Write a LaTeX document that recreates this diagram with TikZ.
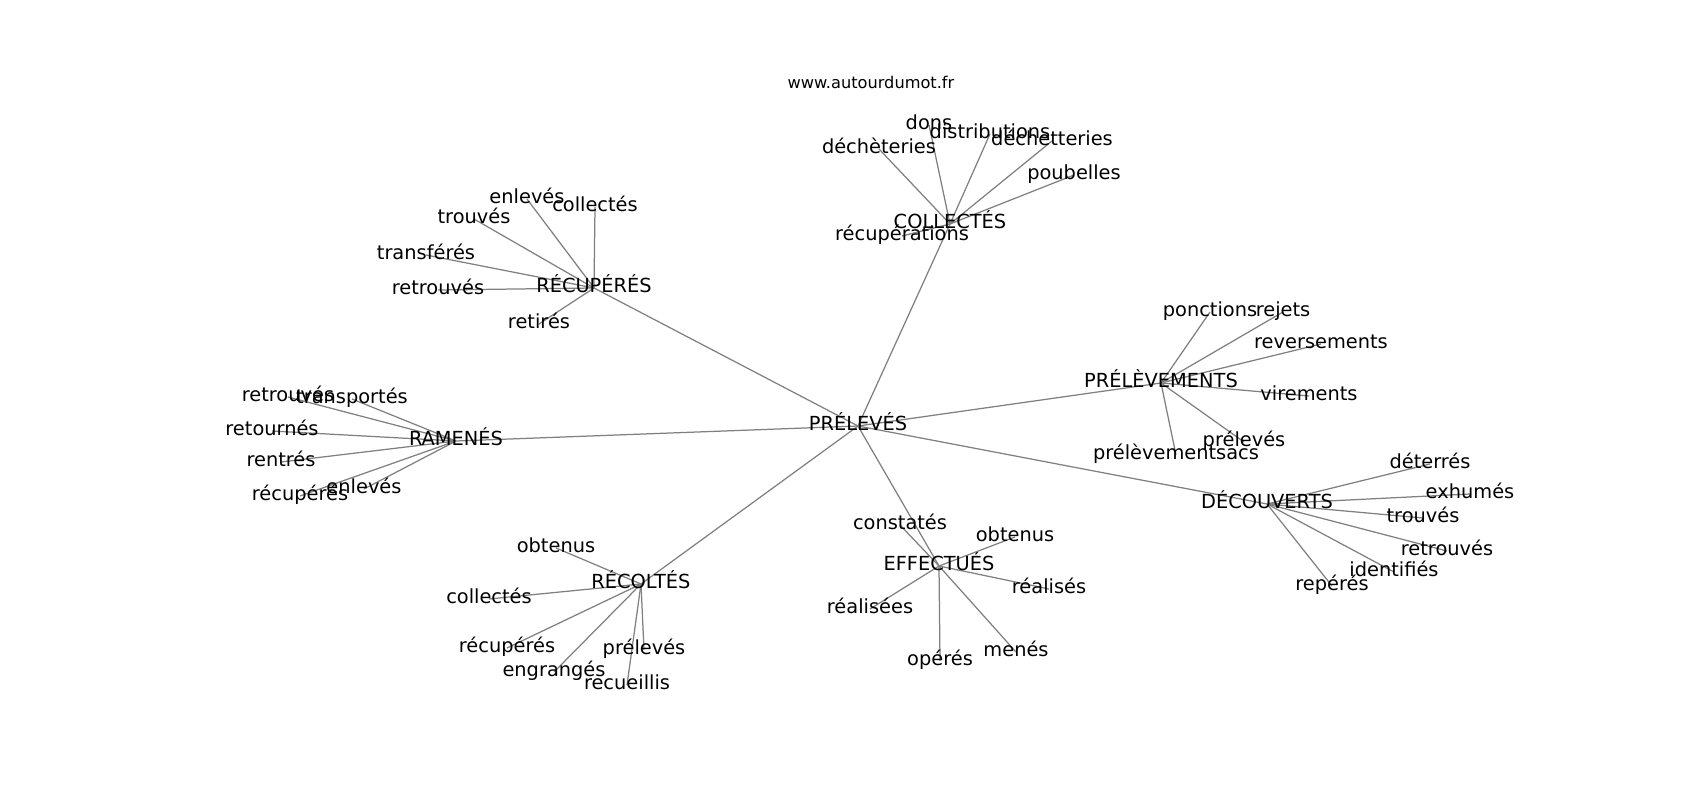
\documentclass[tikz,border=0pt]{standalone}
\usepackage{fontspec}
\setmainfont{DejaVu Sans}
\usetikzlibrary{backgrounds}
\begin{document}
\begin{tikzpicture}[x=0.01in,y=-0.01in,
  lbl/.style={font=\fontsize{14}{16}\selectfont, inner sep=0pt, text height=0.86em, text depth=0.14em, text=black},
  ttl/.style={font=\fontsize{11.7}{14}\selectfont, inner sep=0pt, text=black},
  edge/.style={draw=black!50, line width=0.9pt}]
\useasboundingbox (0,0) rectangle (1700,800);
\node[ttl] (title) at (871,82) {www.autourdumot.fr};
\begin{scope}[shift={(0,2)}]
% hubs
\node[lbl] (P) at (858,424) {PRÉLEVÉS};
\node[lbl] (COL) at (950,222) {COLLECTÉS};
\node[lbl] (REC) at (594,286) {RÉCUPÉRÉS};
\node[lbl] (RAM) at (456,439) {RAMENÉS};
\node[lbl] (PRL) at (1161,381) {PRÉLÈVEMENTS};
\node[lbl] (DEC) at (1267,502) {DÉCOUVERTS};
\node[lbl] (RCL) at (641,582) {RÉCOLTÉS};
\node[lbl] (EFF) at (939,564) {EFFECTUÉS};
% COLLECTÉS
\node[lbl] (c1) at (929,123) {dons};
\node[lbl] (c2) at (990,132) {distributions};
\node[lbl] (c3) at (879,147) {déchèteries};
\node[lbl] (c4) at (1052,139) {déchetteries};
\node[lbl] (c5) at (1074,173) {poubelles};
\node[lbl] (c6) at (902,234) {récupérations};
% RÉCUPÉRÉS
\node[lbl] (r1) at (527,197) {enlevés};
\node[lbl] (r2) at (595,205) {collectés};
\node[lbl] (r3) at (474,217) {trouvés};
\node[lbl] (r4) at (426,253) {transférés};
\node[lbl] (r5) at (438,288) {retrouvés};
\node[lbl] (r6) at (539,322) {retirés};
% RAMENÉS
\node[lbl] (m1) at (288,395) {retrouvés};
\node[lbl] (m2) at (352,397) {transportés};
\node[lbl] (m3) at (272,429) {retournés};
\node[lbl] (m4) at (281,460) {rentrés};
\node[lbl] (m5) at (300,494) {récupérés};
\node[lbl] (m6) at (364,487) {enlevés};
% PRÉLÈVEMENTS
\node[lbl] (p1) at (1210,310) {ponctions};
\node[lbl] (p2) at (1283,310) {rejets};
\node[lbl] (p3) at (1321,342) {reversements};
\node[lbl] (p4) at (1309,394) {virements};
\node[lbl] (p5) at (1244,440) {prélevés};
\node[lbl] (p6) at (1176,453) {prélèvementsacs};
% DÉCOUVERTS
\node[lbl] (d1) at (1430,462) {déterrés};
\node[lbl] (d2) at (1470,492) {exhumés};
\node[lbl] (d3) at (1423,516) {trouvés};
\node[lbl] (d4) at (1447,549) {retrouvés};
\node[lbl] (d5) at (1394,570) {identifiés};
\node[lbl] (d6) at (1332,584) {repérés};
% RÉCOLTÉS
\node[lbl] (k1) at (556,546) {obtenus};
\node[lbl] (k2) at (489,597) {collectés};
\node[lbl] (k3) at (507,646) {récupérés};
\node[lbl] (k4) at (644,648) {prélevés};
\node[lbl] (k5) at (554,670) {engrangés};
\node[lbl] (k6) at (627,683) {recueillis};
% EFFECTUÉS
\node[lbl] (e1) at (900,523) {constatés};
\node[lbl] (e2) at (1015,535) {obtenus};
\node[lbl] (e3) at (1049,587) {réalisés};
\node[lbl] (e4) at (870,607) {réalisées};
\node[lbl] (e5) at (940,659) {opérés};
\node[lbl] (e6) at (1016,650) {menés};
\end{scope}
\begin{scope}[on background layer]
\foreach \a/\b in {P/COL,P/REC,P/RAM,P/PRL,P/DEC,P/RCL,P/EFF,
  COL/c1,COL/c2,COL/c3,COL/c4,COL/c5,COL/c6,
  REC/r1,REC/r2,REC/r3,REC/r4,REC/r5,REC/r6,
  RAM/m1,RAM/m2,RAM/m3,RAM/m4,RAM/m5,RAM/m6,
  PRL/p1,PRL/p2,PRL/p3,PRL/p4,PRL/p5,PRL/p6,
  DEC/d1,DEC/d2,DEC/d3,DEC/d4,DEC/d5,DEC/d6,
  RCL/k1,RCL/k2,RCL/k3,RCL/k4,RCL/k5,RCL/k6,
  EFF/e1,EFF/e2,EFF/e3,EFF/e4,EFF/e5,EFF/e6}
  \draw[edge] (\a.center) -- (\b.center);
\end{scope}
\end{tikzpicture}
\end{document}
